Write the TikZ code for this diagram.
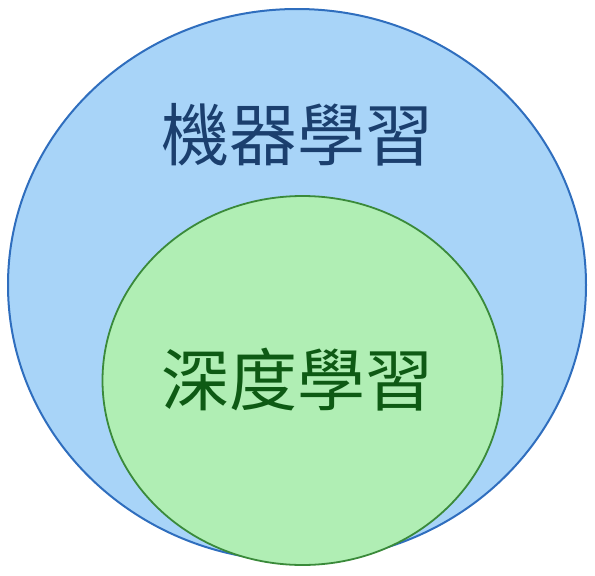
\documentclass[tikz,border=0pt]{standalone}
\usepackage{fontspec}
\newfontfamily\cjk{Noto Sans CJK TC}
\definecolor{outerfill}{HTML}{A8D4F8}
\definecolor{outerline}{HTML}{2F6EBE}
\definecolor{innerfill}{HTML}{B0EEB4}
\definecolor{innerline}{HTML}{3A8A3A}
\definecolor{bluetext}{HTML}{1B3F6E}
\definecolor{greentext}{HTML}{0E5A14}
\tikzset{
  setbox/.style={ellipse, draw, line width=2pt, inner sep=0pt},
  label/.style={font=\cjk\fontsize{68}{68}\selectfont, inner sep=0pt},
}
\usetikzlibrary{shapes.geometric}
\begin{document}
\begin{tikzpicture}[x=1pt,y=-1pt]
\useasboundingbox[fill=white] (0,0) rectangle (595,576);
\node[setbox, fill=outerfill, draw=outerline, minimum width=578pt, minimum height=552pt] (ml) at (297,285) {};
\node[setbox, fill=innerfill, draw=innerline, line width=1.8pt, minimum width=400pt, minimum height=369pt] (dl) at (302.5,380.5) {};
\node[label, text=bluetext] (mltext) at (297,134.5) {機器學習};
\node[label, text=greentext] (dltext) at (297,379.5) {深度學習};
\end{tikzpicture}
\end{document}
